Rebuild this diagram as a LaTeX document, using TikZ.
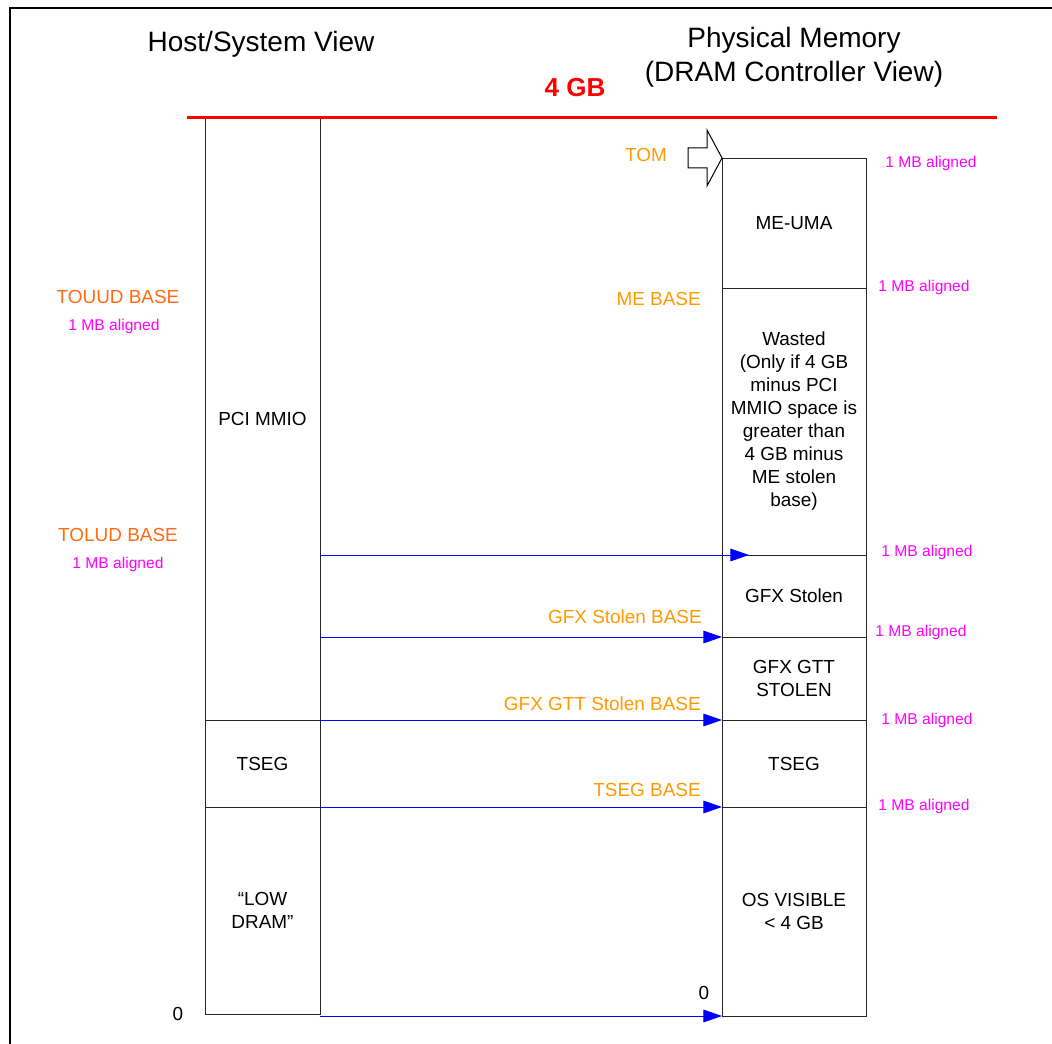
\documentclass[tikz,border=0pt]{standalone}
\usepackage{fontspec}
\setmainfont{Liberation Sans}
\usetikzlibrary{
    arrows.meta,
    positioning,
    calc
}
\definecolor{basecol}{HTML}{FF9900}
\definecolor{hostcol}{HTML}{FF6A13}
\definecolor{aligncol}{HTML}{FF00FF}
\definecolor{arrowcol}{HTML}{0000FF}
\definecolor{gbcol}{HTML}{FF0000}

\begin{document}
\begin{tikzpicture}[
    x=0.75pt, y=-0.75pt,
    font=\fontsize{14.2}{17.25}\selectfont,
    % ── Node Styles ──
    region/.style={
        draw=black!85, line width=0.6pt,
        minimum width=108pt, align=center, inner sep=0pt, outer sep=0pt
    },
    hregion/.style={region, minimum width=86.25pt},
    % ── Arrow Styles ──
    arr/.style={-{Triangle[length=14pt, width=9.5pt]}, arrowcol, line width=0.75pt},
    % ── Label Styles ──
    blabel/.style={text=basecol, inner sep=0pt},
    hlabel/.style={text=hostcol, inner sep=0pt},
    al/.style={text=aligncol, inner sep=0pt, font=\fontsize{11.7}{14}\selectfont},
    title/.style={font=\fontsize{21}{25.5}\selectfont, align=center, inner sep=0pt},
]
\useasboundingbox (0,0) rectangle (1052,1044);

% frame
\draw[line width=1.5pt] (10,1044) -- (10,8) -- (1052,8);

% ────────────────────────────────
%  TITLES
% ────────────────────────────────
\node[title] (host) at (261,44) {Host/System View};
\node[title] (phys) at (794,57) {Physical Memory\\(DRAM Controller View)};
\node[inner sep=0pt, text=gbcol, font=\fontsize{19.5}{22}\selectfont\bfseries] (fourgb) at (575,88) {4 GB};

% ────────────────────────────────
%  HOST / SYSTEM VIEW
% ────────────────────────────────
\node[hregion, minimum height=451.5pt, anchor=north] (pci) at (262.5,118) {PCI MMIO};
\node[hregion, minimum height=65.25pt, below=0pt of pci] (tsegL) {TSEG};
\node[hregion, minimum height=155.25pt, below=0pt of tsegL] (lowdram) {“LOW\\DRAM”};

\node[hlabel] (touud) at (118,297) {TOUUD BASE};
\node[al] (touudal) at (114,326) {1 MB aligned};
\node[hlabel] (tolud) at (118,535) {TOLUD BASE};
\node[al] (toludal) at (118,564) {1 MB aligned};
\node[inner sep=0pt] (zeroL) at (178,1014) {0};

% ────────────────────────────────
%  PHYSICAL MEMORY
% ────────────────────────────────
\node[region, minimum height=97.5pt] (meuma) at (794,223) {ME-UMA};
\node[region, minimum height=200.25pt, below=0pt of meuma] (wasted) {
    Wasted\\(Only if 4 GB\\minus PCI\\MMIO space is\\greater than\\4 GB minus\\ME stolen\\base)
};
\node[region, minimum height=61.5pt, below=0pt of wasted] (gfx) {GFX Stolen};
\node[region, minimum height=62.25pt, below=0pt of gfx] (gtt) {GFX GTT\\STOLEN};
\node[region, minimum height=65.25pt, below=0pt of gtt] (tsegR) {TSEG};
\node[region, minimum height=156.75pt, below=0pt of tsegR] (osvis) {OS VISIBLE\\< 4 GB};

% 4 GB line
\draw[gbcol, line width=2.25pt] (187,118) -- (997,118);

% TOM marker
\draw[line width=0.75pt, fill=white]
    (meuma.north west) -- ++(-15,-28) -- ++(0,18) -- ++(-19,0)
    -- ++(0,20) -- ++(19,0) -- ++(0,18) -- cycle;

% Base labels
\node[blabel] (tom) at (646,155) {TOM};
\node[blabel, anchor=east] (mebase) at (701,299) {ME BASE};
\node[blabel, anchor=east] (gfxbase) at (702,617) {GFX Stolen BASE};
\node[blabel, anchor=east] (gttbase) at (701,704) {GFX GTT Stolen BASE};
\node[blabel, anchor=east] (tsegbase) at (701,790) {TSEG BASE};
\node[inner sep=0pt] (zeroR) at (704,993) {0};

% Alignment notes
\node[al] (al1) at (931,163) {1 MB aligned};
\node[al] (al2) at (924,287) {1 MB aligned};
\node[al] (al3) at (927,552) {1 MB aligned};
\node[al] (al4) at (921,632) {1 MB aligned};
\node[al] (al5) at (927,720) {1 MB aligned};
\node[al] (al6) at (924,806) {1 MB aligned};

% ────────────────────────────────
%  MAPPING ARROWS
% ────────────────────────────────
\coordinate (toludtip) at ($(gfx.north west)+(27,0)$);
\draw[arr] (pci.east |- gfx.north) -- (toludtip);
\draw[arr] (pci.east |- gtt.north) -- (gtt.north west);
\draw[arr] (pci.south east) -- (tsegR.north west);
\draw[arr] (tsegL.south east) -- (osvis.north west);
\draw[arr] (lowdram.east |- osvis.south) -- (osvis.south west);

\end{tikzpicture}
\end{document}
